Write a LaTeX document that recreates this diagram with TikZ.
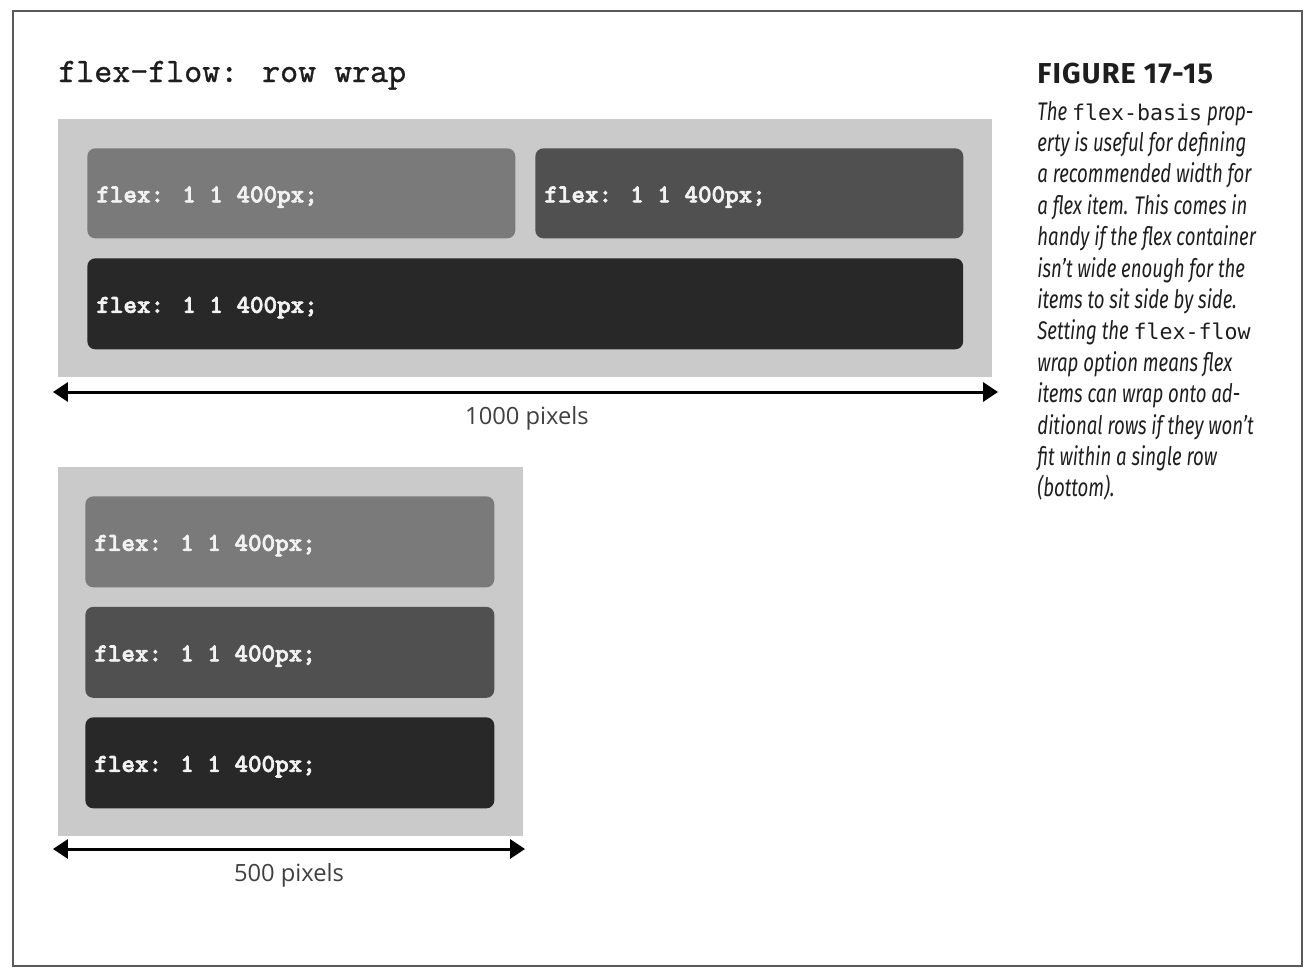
\documentclass[tikz,border=0pt]{standalone}
\usepackage{fontspec}
\setmainfont{Fira Sans}
\newfontfamily\codefont{lmmonolt10-bold}[Extension=.otf, FakeBold=2.5]
\newfontfamily\headfont{lmmono10-regular}[Extension=.otf, FakeBold=1]
\newfontfamily\capfont{Fira Sans}[FakeStretch=0.73]
\newfontfamily\capmono{DejaVu Sans Mono}
\newfontfamily\figfont{Fira Sans}[LetterSpace=4]
\newfontfamily\dimfont{Open Sans}
\newcommand\capcode[1]{{\capmono\upshape\fontsize{12.3}{14}\selectfont #1}}
\usetikzlibrary{positioning}
\usetikzlibrary{arrows.meta}

\definecolor{framegray}{HTML}{5A5A5A}
\definecolor{wrapgray}{HTML}{CACACA}
\definecolor{itemA}{HTML}{7A7A7A}
\definecolor{itemB}{HTML}{505050}
\definecolor{itemC}{HTML}{282828}
\definecolor{ink}{HTML}{1E1E1E}
\definecolor{codewhite}{HTML}{F2F2F2}

\begin{document}
\begin{tikzpicture}[x=0.02cm, y=-0.02cm,
    wrapbox/.style={fill=wrapgray, draw=none, inner sep=0pt, anchor=north west},
    item/.style={rounded corners=4.5pt, draw=none, inner sep=0pt, anchor=north west},
    code/.style={text=codewhite, inner sep=0pt, anchor=base west, font=\codefont\fontsize{14.7}{17}\selectfont},
    dimline/.style={line width=1.7pt, {Triangle[length=8.5pt,width=10.8pt]}-{Triangle[length=8.5pt,width=10.8pt]}},
    dimlabel/.style={text=ink!85, inner sep=0pt, anchor=base, font=\dimfont\fontsize{13.5}{16}\selectfont},
    capline/.style={text=ink, inner sep=0pt, anchor=base west, font=\capfont\itshape\fontsize{14.5}{17.8}\selectfont}]
    \useasboundingbox (0,0) rectangle (1314,974);
    \draw[framegray, line width=1.1pt] (13,11) rectangle (1302,966);
    % heading
    \node[text=ink, inner sep=0pt, anchor=base west, font=\headfont\fontsize{19.5}{22}\selectfont] (head) at (58,82) {flex-flow: row wrap};
    % wide container
    \node[wrapbox, minimum width=18.68cm, minimum height=5.16cm] (wide) at (58,119) {};
    \node[item, fill=itemA, minimum width=8.56cm, minimum height=1.8cm] (boxA) at (87,148) {};
    \node[item, fill=itemB, minimum width=8.56cm, minimum height=1.8cm] (boxB) at (535,148) {};
    \node[item, fill=itemC, minimum width=17.52cm, minimum height=1.82cm] (boxC) at (87,258) {};
    \foreach \b in {boxA,boxB,boxC}
      \node[code] (\b-txt) at ([xshift=0.18cm, yshift=-0.18cm]\b.west) {flex: 1 1 400px;};
    \coordinate (wideL) at (53,392);
    \coordinate (wideR) at (998,392);
    \draw[dimline] (wideL) -- (wideR);
    \node[dimlabel] (wideLbl) at (527,424) {1000 pixels};
    % narrow container
    \node[wrapbox, minimum width=9.3cm, minimum height=7.38cm] (narrow) at (58,467) {};
    \foreach \c [count=\i] in {itemA,itemB,itemC} {
      \node[item, fill=\c, minimum width=8.18cm, minimum height=1.82cm] (col\i) at (85,{496+110.5*(\i-1)}) {};
      \node[code] (col\i-txt) at ([xshift=0.18cm, yshift=-0.18cm]col\i.west) {flex: 1 1 400px;};
    }
    \coordinate (narrowL) at (53,849);
    \coordinate (narrowR) at (525,849);
    \draw[dimline] (narrowL) -- (narrowR);
    \node[dimlabel] (narrowLbl) at (289,881) {500 pixels};
    % caption
    \node[text=ink, inner sep=0pt, anchor=base west, font=\figfont\bfseries\fontsize{16.4}{20}\selectfont] (fig) at (1037,83) {FIGURE 17-15};
    \foreach \txt [count=\i] in {
      {The \capcode{flex-basis} prop-},
      {erty is useful for defining},
      {a recommended width for},
      {a flex item. This comes in},
      {handy if the flex container},
      {isn’t wide enough for the},
      {items to sit side by side.},
      {Setting the \capcode{flex-flow}},
      {wrap option means flex},
      {items can wrap onto ad-},
      {ditional rows if they won’t},
      {fit within a single row},
      {(bottom).}}
      \node[capline] (cap\i) at (1037,{120+31.4*(\i-1)}) {\txt};
\end{tikzpicture}
\end{document}
